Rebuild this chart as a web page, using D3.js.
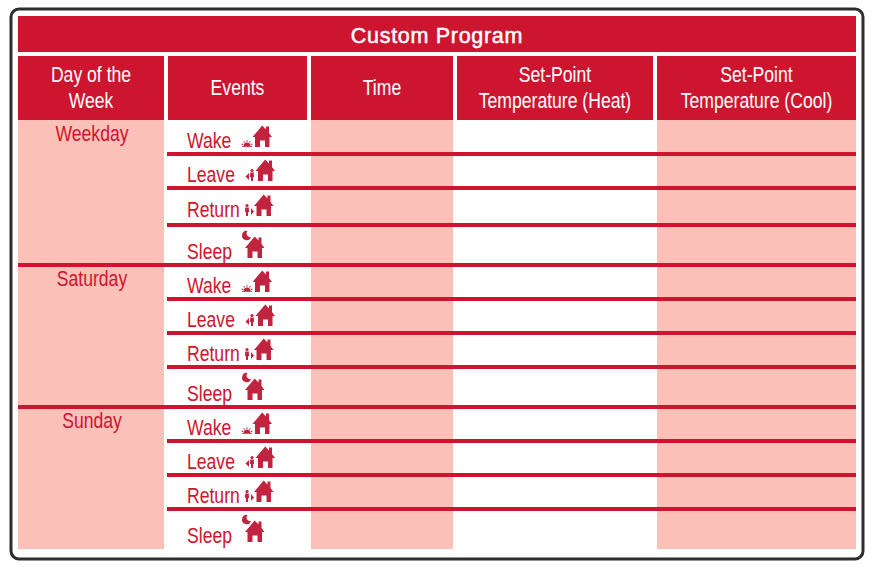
<!DOCTYPE html>
<html>
<head>
<meta charset="utf-8">
<style>
  html, body { margin: 0; background: #fff; }
  svg { display: block; }
  text { font-family: "Liberation Sans", sans-serif; }
</style>
</head>
<body>
<svg width="880" height="574"></svg>
<script src="https://cdn.jsdelivr.net/npm/d3@7"></script>
<script>
// table contents
const title = 'Custom Program';
const columns = [['Day of the', 'Week'], ['Events'], ['Time'], ['Set-Point', 'Temperature (Heat)'], ['Set-Point', 'Temperature (Cool)']];
const days = ['Weekday', 'Saturday', 'Sunday'];
const events = ['Wake', 'Leave', 'Return', 'Sleep'];

(function () {
  const svg = d3.select('svg');
  const red = '#ce152f';
  const pink = '#fbc0b8';
  const iconRed = '#c1243f';

  // layout
  const colEdges = [[18, 164], [168, 307], [311, 453], [457, 653], [657, 856]];
  const rowLines = [154, 188, 225, 265, 299, 333, 367, 407, 441, 475, 509];
  const rowBaselines = [147, 181, 216, 258, 292, 326, 360, 400, 434, 468, 502, 542];
  const bodyTop = 120;
  const bodyBottom = 549;
  const rowLine = i => rowLines[i];
  // no condensed font is installed, so squeeze the regular one
  const squeeze = (x, y) => `translate(${x},${y}) scale(0.8,1)`;

  // outer frame
  svg.append('rect')
    .attr('x', 11).attr('y', 9)
    .attr('width', 852).attr('height', 550)
    .attr('rx', 8)
    .attr('fill', '#fff')
    .attr('stroke', '#2f2d2e')
    .attr('stroke-width', 3);

  // title bar
  svg.append('rect')
    .attr('x', 18).attr('y', 16)
    .attr('width', 838).attr('height', 36)
    .attr('fill', red);
  svg.append('text')
    .attr('x', 437).attr('y', 43)
    .attr('text-anchor', 'middle')
    .attr('fill', '#fff')
    .attr('stroke', '#fff')
    .attr('stroke-width', 0.5)
    .style('font-size', '21.5px')
    .style('letter-spacing', '0.7px')
    .text(title);

  // column headers
  const head = svg.append('g').selectAll('g').data(columns).enter().append('g');
  head.append('rect')
    .attr('x', (d, i) => colEdges[i][0])
    .attr('y', 56)
    .attr('width', (d, i) => colEdges[i][1] - colEdges[i][0])
    .attr('height', bodyTop - 56)
    .attr('fill', red);
  head.each(function (d, i) {
    const cx = (colEdges[i][0] + colEdges[i][1]) / 2;
    const y0 = d.length === 2 ? 82 : 95;
    d3.select(this).selectAll('text').data(d).enter().append('text')
      .attr('transform', (t, j) => squeeze(cx, y0 + j * 26))
      .attr('text-anchor', 'middle')
      .attr('fill', '#fff')
      .style('font-size', '22px')
      .text(t => t);
  });

  // pink body columns (day, time, cool)
  svg.append('g').selectAll('rect').data([0, 2, 4]).enter().append('rect')
    .attr('x', i => colEdges[i][0])
    .attr('y', bodyTop)
    .attr('width', i => colEdges[i][1] - colEdges[i][0])
    .attr('height', bodyBottom - bodyTop)
    .attr('fill', pink);

  // row rules, the ones between days run the full width
  svg.append('g').selectAll('rect').data(d3.range(rowLines.length)).enter().append('rect')
    .attr('x', i => (i % 4 === 3 ? 18 : 167))
    .attr('y', i => rowLine(i) - 2)
    .attr('width', i => 856 - (i % 4 === 3 ? 18 : 167))
    .attr('height', 4)
    .attr('fill', red);

  // day names
  const dayTops = [bodyTop, rowLine(3), rowLine(7)];
  svg.append('g').selectAll('text').data(days).enter().append('text')
    .attr('transform', (d, i) => squeeze(92, dayTops[i] + 21))
    .attr('text-anchor', 'middle')
    .attr('fill', red)
    .style('font-size', '22px')
    .text(d => d);

  // house, origin at bottom left
  const house = 'M0,-10 L9.7,-21.5 L13.5,-17.5 L13.5,-20.5 L16.5,-20.5 L16.5,-14 L19.5,-10 L17,-10 L17,0 '
    + 'L12.5,0 L12.5,-6.5 L7.5,-6.5 L7.5,0 L2.5,0 L2.5,-10 Z';
  const person = 'M-1.8,-8.5 h3.6 L2,-4 L1,-4 L1,0 L-1,0 L-1,-4 L-2,-4 Z';

  const drawIcon = function (g, name) {
    const icon = g.append('g').attr('fill', iconRed);
    if (name === 'Wake') {
      // small rising sun
      icon.append('path').attr('d', 'M-3.5,-1 A3.5,3.5 0 0 1 3.5,-1 Z').attr('transform', 'translate(247,0)');
      icon.selectAll('line').data([-70, -35, 0, 35, 70]).enter().append('line')
        .attr('x1', 247).attr('x2', 247).attr('y1', -6.8).attr('y2', -5.2)
        .attr('stroke', iconRed)
        .attr('transform', d => `rotate(${d} 247 -1)`);
      icon.append('rect').attr('x', 242).attr('y', -0.8).attr('width', 10).attr('height', 0.8);
      icon.append('path').attr('d', house).attr('transform', 'translate(252.5,0)');
    }
    if (name === 'Leave') {
      icon.append('path').attr('d', 'M249,-8 L249,-1 L245.5,-4.5 Z');
      icon.append('circle').attr('cx', 252).attr('cy', -10.5).attr('r', 1.6);
      icon.append('path').attr('d', person).attr('transform', 'translate(252,0)');
      icon.append('path').attr('d', house).attr('transform', 'translate(255.5,0)');
    }
    if (name === 'Return') {
      icon.append('circle').attr('cx', 247).attr('cy', -10.5).attr('r', 1.6);
      icon.append('path').attr('d', person).attr('transform', 'translate(247,0)');
      icon.append('path').attr('d', 'M251,-8 L251,-1 L254,-4.5 Z');
      icon.append('path').attr('d', house).attr('transform', 'translate(254,0)');
    }
    if (name === 'Sleep') {
      // crescent moon above the roof
      icon.append('path').attr('d', 'M247.5,-27 A4.6,4.6 0 1 0 251,-21 A3.6,3.6 0 0 1 247.5,-27 Z');
      icon.append('path').attr('d', house).attr('transform', 'translate(245,0)');
    }
  };

  // event labels and icons, one per row, cycling through the four events
  const rows = rowBaselines.map((y, i) => ({name: events[i % 4], y}));
  const row = svg.append('g').selectAll('g').data(rows).enter().append('g')
    .attr('transform', d => `translate(0,${d.y})`);
  row.append('text')
    .attr('transform', squeeze(187, 1))
    .attr('fill', red)
    .style('font-size', '22px')
    .text(d => d.name);
  row.each(function (d) {
    drawIcon(d3.select(this), d.name);
  });
})();
</script>
</body>
</html>
